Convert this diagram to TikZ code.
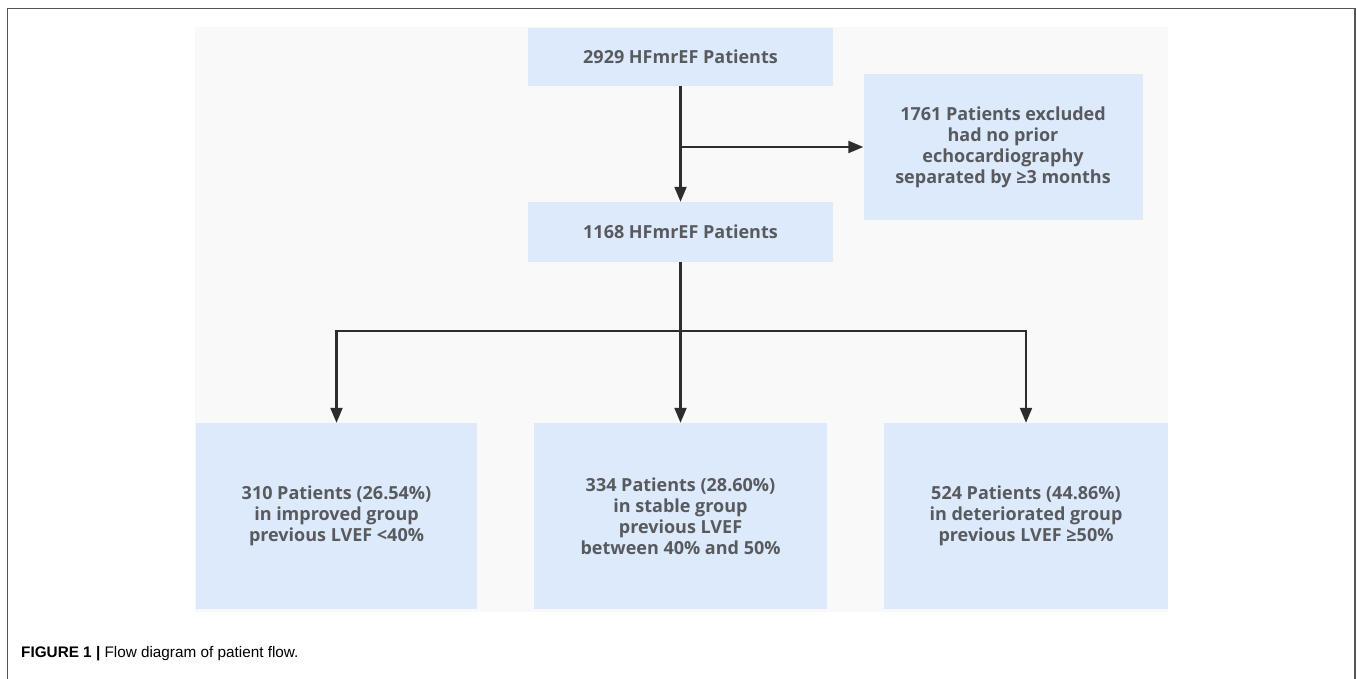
\documentclass[tikz,border=0pt]{standalone}
\usepackage{fontspec}
\setmainfont{Open Sans}
\newfontfamily\capfont{Liberation Sans}
\usetikzlibrary{arrows.meta}
\definecolor{boxblue}{RGB}{220,234,252}
\definecolor{backgray}{RGB}{249,249,249}
\definecolor{txtgray}{RGB}{88,90,94}
\definecolor{linegray}{RGB}{45,45,45}
\definecolor{framegray}{RGB}{85,85,85}

\begin{document}
\begin{tikzpicture}[x=1pt,y=-1pt,
		patbox/.style={fill=boxblue,text=txtgray,align=center,inner sep=0pt,
			font=\fontsize{18}{21}\selectfont\bfseries},
		flow/.style={draw=linegray,line width=2.2pt,-{Triangle[length=15pt,width=12pt]}},
		flowline/.style={draw=linegray,line width=2.2pt}]
		\useasboundingbox (0,0) rectangle (1357,679);
		\fill[white] (0,0) rectangle (1357,679);
		\draw[framegray,line width=1.5pt] (7.5,679) -- (7.5,8.5) -- (1355,8.5) -- (1355,679);
		\fill[backgray] (195,27) rectangle (1168,612);
		\node[patbox,minimum width=305pt,minimum height=58pt] (all) at (680.5,57) {2929 HFmrEF Patients};
		\node[patbox,minimum width=279pt,minimum height=146pt] (excl) at (1003,147) {1761 Patients excluded\\had no prior\\echocardiography\\separated by ≥3 months};
		\node[patbox,minimum width=305pt,minimum height=60pt] (incl) at (680.5,232) {1168 HFmrEF Patients};
		\node[patbox,minimum width=281pt,minimum height=186pt] (impr) at (336.5,516) {310 Patients (26.54\%)\\in improved group\\previous LVEF <40\%};
		\node[patbox,minimum width=293pt,minimum height=186pt] (stab) at (680.5,516) {334 Patients (28.60\%)\\in stable group\\previous LVEF\\between 40\% and 50\%};
		\node[patbox,minimum width=284pt,minimum height=186pt] (dete) at (1026,516) {524 Patients (44.86\%)\\in deteriorated group\\previous LVEF ≥50\%};
		\coordinate (split) at (all.south |- excl.west);
		\coordinate (fork) at (680.5,331);
		\draw[flow] (all.south) -- (incl.north);
		\draw[flow] (split) -- (excl.west);
		\draw[flowline] (incl.south) -- (fork);
		\draw[flow] (fork) -| (impr.north);
		\draw[flow] (fork) -- (stab.north);
		\draw[flow] (fork) -| (dete.north);
		\node[anchor=west,inner sep=0pt] (cap) at (21,654) {\capfont\fontsize{15.3}{17}\selectfont\textbf{FIGURE 1 |} Flow diagram of patient flow.};
	\end{tikzpicture}
\end{document}
